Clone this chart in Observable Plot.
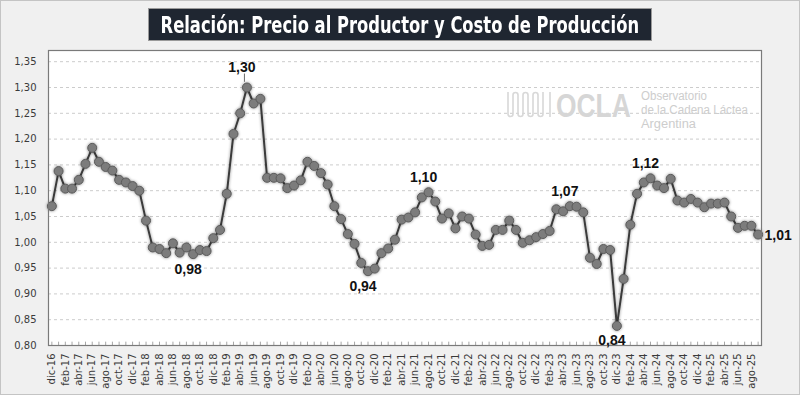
<!DOCTYPE html>
<html><head><meta charset="utf-8">
<script src="https://cdn.jsdelivr.net/npm/d3@7"></script>
<script src="https://cdn.jsdelivr.net/npm/@observablehq/plot@0.6"></script>
<style>
html,body{margin:0;padding:0;background:#f0f0f0;}
#wrap{position:relative;width:800px;height:395px;background:#f0f0f0;overflow:hidden;}
#border{position:absolute;left:0;top:0;width:800px;height:395px;box-sizing:border-box;border:1px solid #c4c4c4;pointer-events:none;}
#title{position:absolute;left:148px;top:8px;width:504px;height:33px;background:#1f2631;border:1px solid #9a9a9a;box-sizing:border-box;color:#fff;display:flex;align-items:center;justify-content:center;white-space:nowrap;overflow:visible;}
#title span{display:inline-block;font-weight:bold;font-size:23px;font-family:"Liberation Sans Narrow","DejaVu Sans Condensed","DejaVu Sans",sans-serif;transform:scaleX(0.79);transform-origin:center;}
#chart{position:absolute;left:0;top:49px;}
#wm{position:absolute;left:0;top:0;width:800px;height:395px;pointer-events:none;}
</style></head>
<body>
<div id="wrap">
  <div id="chart"></div>
  <svg id="wm" width="800" height="395">
    <path d="M508 92 V114 a2.5 2.5 0 0 0 5 0 V95 a2.5 2.5 0 0 1 5 0 V114 a2.5 2.5 0 0 0 5 0 V95 a2.5 2.5 0 0 1 5 0 V114 a2.5 2.5 0 0 0 5 0 V95 a2.5 2.5 0 0 1 5 0 V114 a2.5 2.5 0 0 0 5 0 V92 M550 92 V117" fill="none" stroke="#d8d8d8" stroke-width="1.6"/>
    <text transform="translate(556,116.5) scale(0.8,1)" font-family="Liberation Sans, Arial, sans-serif" font-weight="bold" font-size="33" fill="#d6d6d6">OCLA</text>
    <text font-family="Liberation Sans, Arial, sans-serif" font-size="12.5" fill="#cdcdcd">
      <tspan x="641" y="100" textLength="66" lengthAdjust="spacingAndGlyphs">Observatorio</tspan>
      <tspan x="641" y="114" textLength="107" lengthAdjust="spacingAndGlyphs">de la Cadena Láctea</tspan>
      <tspan x="641" y="127.5" textLength="55" lengthAdjust="spacingAndGlyphs">Argentina</tspan>
    </text>
  </svg>
  <div id="title"><span>Relación: Precio al Productor y Costo de Producción</span></div>
  <div id="border"></div>
</div>
<script>
// ---- Data ----
const monthNames = ["ene","feb","mar","abr","may","jun","jul","ago","sep","oct","nov","dic"];
const months = ["dic-16"];
for (let yr = 17; yr <= 25; yr++) {
  for (let m = 0; m < 12; m++) {
    if (yr === 25 && m > 8) break;
    months.push(monthNames[m] + "-" + yr);
  }
}
const ratio = [
  1.070,
  1.138,1.104,1.104,1.121,1.152,1.183,1.156,1.146,1.139,1.121,1.116,1.109,
  1.100,1.042,0.990,0.987,0.979,0.998,0.980,0.990,0.977,0.985,0.983,1.008,
  1.024,1.094,1.210,1.250,1.300,1.269,1.278,1.125,1.125,1.124,1.105,1.110,
  1.120,1.156,1.148,1.134,1.112,1.070,1.045,1.016,0.997,0.960,0.944,0.949,
  0.979,0.988,1.005,1.044,1.048,1.058,1.087,1.097,1.079,1.046,1.056,1.027,
  1.050,1.046,1.015,0.993,0.995,1.024,1.024,1.042,1.024,0.999,1.004,1.010,
  1.016,1.022,1.064,1.060,1.070,1.069,1.058,0.970,0.958,0.987,0.985,0.838,
  0.929,1.034,1.094,1.116,1.124,1.110,1.105,1.123,1.081,1.077,1.084,1.077,
  1.068,1.075,1.075,1.077,1.050,1.028,1.032,1.032,1.015
];
const yTicks = [0.80,0.85,0.90,0.95,1.00,1.05,1.10,1.15,1.20,1.25,1.30,1.35];
const xTicks = months.filter((d, i) => i % 2 === 0);
const annotMonths = ["may-19","sep-18","nov-20","ago-21","may-23","dic-23","may-24","sep-25"];
const annotText   = ["1,30","0,98","0,94","1,10","1,07","0,84","1,12","1,01"];
const annotPlace  = ["peak","below","below","above","above","below","above","right"];

// ---- Build ----
const series = months.map((m, i) => ({month: m, value: ratio[i]}));
const annots = annotMonths.map((m, i) => ({month: m, value: ratio[months.indexOf(m)], text: annotText[i], place: annotPlace[i]}));
const fmt = d => d.toFixed(2).replace(".", ",");
const labelFont = "Liberation Sans, Arial, sans-serif";
const textOpts = (place, dx, dy) => Plot.text(annots.filter(a => a.place === place), {
  x: "month", y: "value", text: "text", dx, dy,
  fontWeight: "bold", fontSize: 14, fontFamily: labelFont, fill: "#111"
});

const plot = Plot.plot({
  width: 800, height: 346,
  marginLeft: 48, marginRight: 39, marginTop: 1, marginBottom: 50,
  style: {background: "transparent", fontFamily: "DejaVu Sans, Verdana, sans-serif", fontSize: "10px", color: "#3a3a3a", overflow: "visible"},
  x: {type: "point", domain: months, padding: 0.5, axis: null},
  y: {domain: [0.80, 1.3717], axis: null},
  marks: [
    Plot.frame({fill: "white", stroke: "none"}),
    Plot.gridY(yTicks.slice(1), {stroke: "#cccccc", strokeOpacity: 1, strokeDasharray: "3,3"}),
    Plot.ruleX(months, {x: d => d, y1: 0.80, y2: 0.8065, stroke: "#a6a6a6"}),
    Plot.ruleY([0.80], {stroke: "#8c8c8c"}),
    Plot.axisY(yTicks, {tickSize: 0, tickPadding: 12, tickFormat: fmt, fontSize: 10, label: null}),
    Plot.axisX(xTicks, {tickSize: 0, tickRotate: -90, tickPadding: 8, fontSize: 10, label: null}),
    Plot.line(series, {x: "month", y: "value", stroke: "#3a3a3a", strokeWidth: 2}),
    Plot.dot(series, {x: "month", y: "value", r: 4.5, fill: "#7b7b7b", stroke: "#5c5c5c", strokeWidth: 1}),
    Plot.frame({stroke: "#7a7a7a", strokeWidth: 1.2}),
    Plot.link(annots.filter(a => a.place === "peak"), {x1: "month", x2: "month", y1: d => d.value + 0.011, y2: d => d.value + 0.027, dx: -2.5, stroke: "#444", strokeWidth: 0.8}),
    textOpts("peak", -5, -20),
    textOpts("above", -5, -15),
    textOpts("below", -5, 15),
    textOpts("right", 20, 1)
  ]
});

// glow/shadow around the series
const svg = d3.select(plot);
const defs = svg.insert("defs", ":first-child");
const f = defs.append("filter").attr("id", "glow").attr("filterUnits", "userSpaceOnUse")
  .attr("x", 0).attr("y", 0).attr("width", 800).attr("height", 346);
f.append("feGaussianBlur").attr("in", "SourceAlpha").attr("stdDeviation", 1.8).attr("result", "b");
f.append("feFlood").attr("flood-color", "#000").attr("flood-opacity", 0.45).attr("result", "c");
f.append("feComposite").attr("in", "c").attr("in2", "b").attr("operator", "in").attr("result", "s");
const mg = f.append("feMerge");
mg.append("feMergeNode").attr("in", "s");
mg.append("feMergeNode").attr("in", "SourceGraphic");
svg.selectAll('g[aria-label="line"], g[aria-label="dot"]').attr("filter", "url(#glow)");

document.getElementById("chart").appendChild(plot);
</script>
</body></html>
